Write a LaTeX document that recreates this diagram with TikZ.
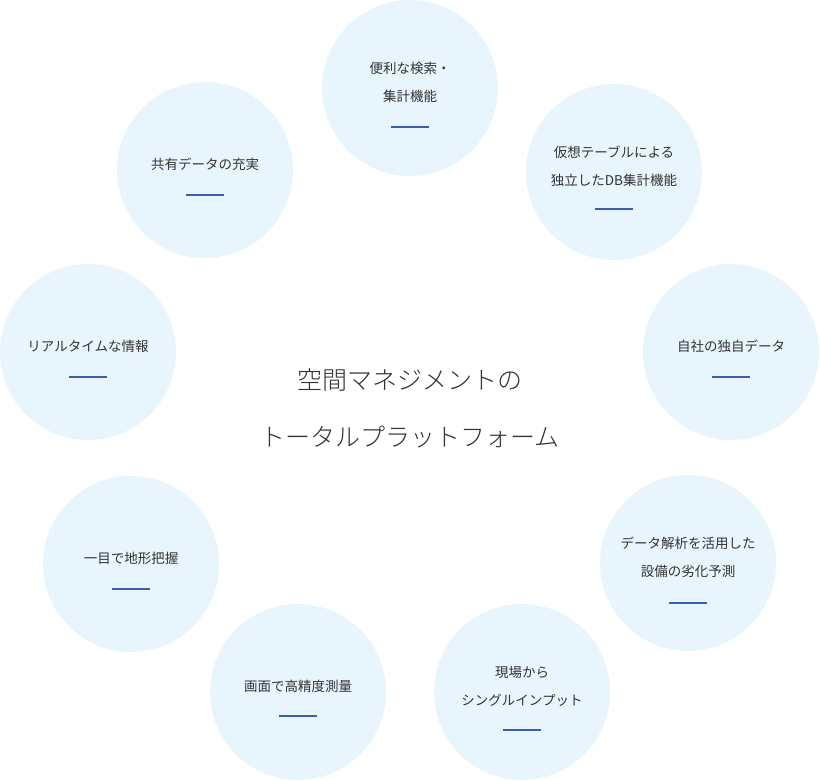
\documentclass[tikz,border=0pt]{standalone}
\usepackage{fontspec}
\newfontfamily\jp{Noto Sans CJK JP}
\newfontfamily\jpl{Noto Sans CJK JP Light}
\definecolor{bub}{HTML}{E8F5FC}
\definecolor{ul}{HTML}{3A5FAF}
\definecolor{tx}{HTML}{333333}
\tikzset{bubble/.style={circle,fill=bub,minimum size=176pt,inner sep=0},
 lbl/.style={text=tx,font=\jp\fontsize{13.5}{28}\selectfont,align=center},
 uline/.style={draw=ul,line width=1.6pt}}
\newcommand\bub[5]{%
 \node[bubble] (#1) at (#2,#3) {};
 \node[lbl] (#1t) at (#2,#3-6) {#4};
 \draw[uline] ([xshift=-19pt,yshift=#5]#1.center) -- ([xshift=19pt,yshift=#5]#1.center);}
\begin{document}
\begin{tikzpicture}[x=1pt,y=-1pt]
\useasboundingbox (0,0) rectangle (820,780);
\bub{a}{410}{88}{便利な検索・\\集計機能}{-39pt}
\bub{b}{614}{172}{仮想テーブルによる\\独立したDB集計機能}{-37pt}
\bub{c}{731}{352}{自社の独自データ}{-25pt}
\bub{d}{688}{563}{データ解析を活用した\\設備の劣化予測}{-40pt}
\bub{e}{522}{692}{現場から\\シングルインプット}{-38pt}
\bub{f}{298}{692}{画面で高精度測量}{-24pt}
\bub{g}{131}{564}{一目で地形把握}{-25pt}
\bub{h}{88}{352}{リアルタイムな情報}{-25pt}
\bub{i}{205}{170}{共有データの充実}{-25pt}
\node[text=tx,font=\jpl\fontsize{25}{57}\selectfont,align=center] (title) at (410,408) {空間マネジメントの\\トータルプラットフォーム};
\end{tikzpicture}
\end{document}
